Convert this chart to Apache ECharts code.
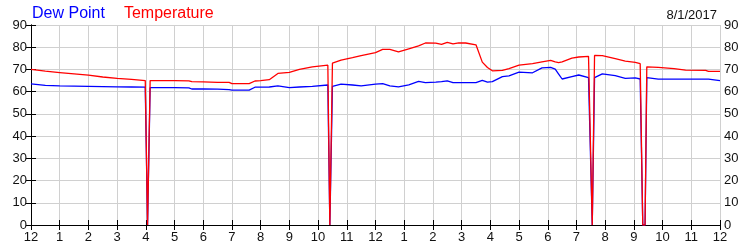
<!DOCTYPE html>
<html>
<head>
<meta charset="utf-8">
<script src="https://cdn.jsdelivr.net/npm/echarts@6/dist/echarts.min.js"></script>
<style>html,body{margin:0;padding:0;background:#fff;}#c{width:750px;height:250px;}</style>
</head>
<body>
<div id="c"></div>
<script>
// Hours since midnight (0..24)
var hours = [0,0.5,1,1.5,2,2.5,3,3.5,3.98,4.06,4.15,4.5,5,5.5,5.6,6,6.5,6.9,7.0,7.6,7.8,8.0,8.3,8.6,9.0,9.35,9.8,10.34,10.41,10.5,10.8,11.2,11.5,12.0,12.25,12.5,12.8,13.16,13.5,13.74,14.1,14.3,14.5,14.7,14.9,15.14,15.5,15.55,15.72,15.9,16.07,16.42,16.65,17.0,17.47,17.8,18.1,18.26,18.38,18.5,18.84,19.08,19.42,19.55,19.63,19.9,20.35,20.7,21.05,21.22,21.31,21.39,21.45,21.85,22.4,22.8,23.5,23.6,24];
var temperature = [70,69.2,68.6,68,67.4,66.6,66,65.5,65,0,65,65,65,64.9,64.5,64.4,64.2,64.2,63.6,63.6,64.8,65,65.4,68.2,68.7,70,71.2,71.9,0,72.8,74.2,75.3,76.2,77.6,79,79,77.9,79.3,80.6,81.9,81.8,81.3,82.2,81.5,82,81.9,81.1,80.7,73.3,70.9,69.4,69.6,70.4,71.9,72.6,73.4,74.1,73.4,73.1,73.4,75.1,75.6,75.9,0,76.3,76.2,74.9,73.7,73.2,72.6,0,0,71.2,70.9,70.4,69.7,69.6,69.1,69.1];
var dewPoint = [63.5,62.8,62.6,62.5,62.4,62.3,62.2,62.1,62,0,61.8,61.8,61.8,61.7,61.2,61.2,61.1,60.9,60.7,60.7,62,62,62.1,62.6,61.8,62.1,62.4,63,0,62.4,63.4,63,62.6,63.4,63.6,62.6,62.2,63.1,64.6,64.1,64.3,64.5,64.9,64.1,64.1,64.1,64.1,65,65.1,64.3,64.5,66.8,67.1,68.8,68.5,70.7,70.9,70.1,67.9,65.7,66.8,67.5,66.3,0,66.3,68,67.2,66,66.2,65.7,0,0,66.3,65.6,65.6,65.6,65.6,65.6,65];
var yTicks = [0,10,20,30,40,50,60,70,80,90];
var dateLabel = '8/1/2017';

function pairs(v){ return hours.map(function(h,i){ return [h, v[i]]; }); }
function hourLabel(h){ var m = h % 12; return String(m === 0 ? 12 : m); }

var chart = echarts.init(document.getElementById('c'), null, {renderer:'canvas'});
var font = 'Liberation Sans, Arial, sans-serif';
var gridLine = {show:true, lineStyle:{color:'#d0d0d0', width:1}};
var axisLine = {show:true, lineStyle:{color:'#000', width:1}};
var tick = {show:true, inside:true, length:5, lineStyle:{color:'#000'}};
chart.setOption({
  animation:false,
  backgroundColor:'#fff',
  title:{text:dateLabel, right:28, top:4, textStyle:{fontFamily:font, fontSize:13, fontWeight:'normal', color:'#111'}},
  legend:{left:22, top:1, icon:'none', itemWidth:0, itemGap:14,
    textStyle:{fontFamily:font, fontSize:16},
    data:[{name:'Dew Point', textStyle:{color:'#0000ff'}},{name:'Temperature', textStyle:{color:'#ff0000'}}]},
  grid:{left:31, right:30, top:25, bottom:25, containLabel:false},
  xAxis:[
    {type:'value', min:0, max:24, interval:1, position:'bottom', axisLine:axisLine, axisTick:tick, splitLine:gridLine,
     axisLabel:{fontFamily:font, fontSize:13, color:'#111', margin:6, formatter:hourLabel, showMinLabel:true, showMaxLabel:true}},
    {type:'value', min:0, max:24, interval:1, position:'top', axisLine:axisLine, axisTick:tick, splitLine:{show:false}, axisLabel:{show:false}}
  ],
  yAxis:[
    {type:'value', min:0, max:90, interval:10, position:'left', axisLine:axisLine, axisTick:tick, splitLine:gridLine,
     axisLabel:{fontFamily:font, fontSize:13, color:'#111', margin:4, formatter:function(v){return yTicks.indexOf(v)>=0?String(v):'';}}},
    {type:'value', min:0, max:90, interval:10, position:'right', axisLine:axisLine, axisTick:tick, splitLine:{show:false},
     axisLabel:{fontFamily:font, fontSize:13, color:'#111', margin:4}}
  ],
  series:[
    {name:'Dew Point', type:'line', data:pairs(dewPoint), showSymbol:false, symbol:'none', lineStyle:{color:'#0000ff', width:1.3}, itemStyle:{color:'#0000ff'}},
    {name:'Temperature', type:'line', data:pairs(temperature), showSymbol:false, symbol:'none', lineStyle:{color:'#ff0000', width:1.3}, itemStyle:{color:'#ff0000'}}
  ]
});
</script>
</body>
</html>
